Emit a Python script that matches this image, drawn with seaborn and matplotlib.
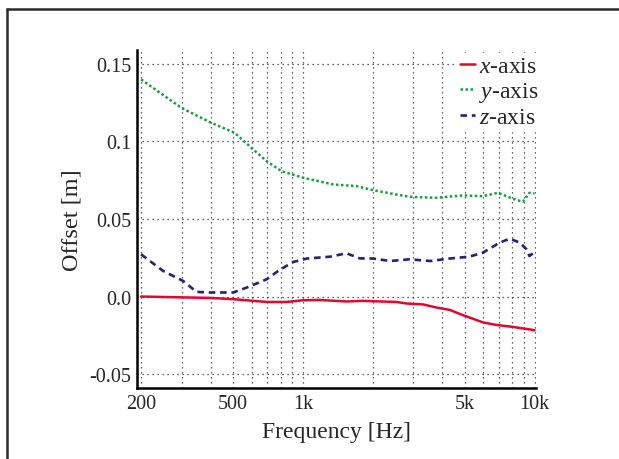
import numpy as np
import pandas as pd
import matplotlib
matplotlib.use("Agg")
import matplotlib.pyplot as plt
import seaborn as sns
from matplotlib.lines import Line2D
from matplotlib.ticker import FixedLocator, FixedFormatter, NullFormatter

# ---- data ----
freq_x = [200, 397, 500, 697, 850, 1000, 1180, 1540, 1800, 2530, 2800, 3300,
          3770, 4300, 4900, 5600, 5990, 6840, 8060, 10000]
off_x = [0.000, -0.0009, -0.0017, -0.0035, -0.0035, -0.0024, -0.0022, -0.0032,
         -0.0028, -0.0035, -0.0045, -0.0051, -0.0071, -0.0086, -0.0120, -0.0151,
         -0.0167, -0.0183, -0.0196, -0.0217]

freq_y = [200, 299, 397, 508, 610, 697, 809, 1002, 1350, 1703, 2010, 2534, 2893,
          3766, 4908, 5985, 6950, 8060, 8900, 9510, 10000]
off_y = [0.140, 0.1216, 0.1124, 0.1055, 0.0948, 0.0873, 0.0808, 0.0766, 0.0723,
         0.0712, 0.0686, 0.0658, 0.0643, 0.0637, 0.0652, 0.0647, 0.0669, 0.0631,
         0.0611, 0.0669, 0.0665]

freq_z = [200, 249, 304, 347, 397, 500, 572, 697, 792, 908, 1040, 1310, 1540,
          1760, 2010, 2380, 2890, 3550, 4300, 5230, 5990, 7060, 7820, 8650, 9240,
          9510, 10000]
off_z = [0.0272, 0.0165, 0.0100, 0.0030, 0.0026, 0.0026, 0.0058, 0.0111, 0.0171,
         0.0223, 0.0245, 0.0257, 0.0279, 0.0246, 0.0245, 0.0229, 0.0240, 0.0229,
         0.0245, 0.0257, 0.0283, 0.0347, 0.0373, 0.0347, 0.0304, 0.0261, 0.0287]

series_labels = [r"$x$-axis", r"$y$-axis", r"$z$-axis"]
xtick_vals = [200, 500, 1000, 5000, 10000]
xtick_labels = ["200", "500", "1k", "5k", "10k"]
ytick_vals = [-0.05, 0.0, 0.05, 0.1, 0.15]
ytick_labels = ["-0.05", "0.0", "0.05", "0.1", "0.15"]
x_label = "Frequency [Hz]"
y_label = "Offset [m]"

# ---- style ----
sns.set_style("white")
plt.rcParams["font.family"] = ["Liberation Serif", "DejaVu Serif"]
plt.rcParams["mathtext.fontset"] = "custom"
plt.rcParams["mathtext.rm"] = "Liberation Serif"
plt.rcParams["mathtext.it"] = "Liberation Serif:italic"

fig = plt.figure(figsize=(6.19, 4.60), dpi=100)
ax = fig.add_axes([137 / 619, 1 - 389 / 460, (536 - 137) / 619, (389 - 51) / 460])

sns.lineplot(x=freq_x, y=off_x, ax=ax, color="#e0082c", linewidth=1.8,
             label=series_labels[0])
sns.lineplot(x=freq_y, y=off_y, ax=ax, color="#14a040", linewidth=1.8,
             linestyle=(0, (1, 1)), label=series_labels[1])
sns.lineplot(x=freq_z, y=off_z, ax=ax, color="#26207a", linewidth=1.9,
             linestyle=(0, (2.5, 1.8)), label=series_labels[2])

ax.set_xscale("log")
ax.set_xlim(192, 10150)
ax.set_ylim(-0.059, 0.159)

minor = [m * 10 ** e for e in (2, 3) for m in range(2, 10)] + [10000]
ax.xaxis.set_major_locator(FixedLocator(xtick_vals))
ax.xaxis.set_major_formatter(FixedFormatter(xtick_labels))
ax.xaxis.set_minor_locator(FixedLocator(minor))
ax.xaxis.set_minor_formatter(NullFormatter())
ax.set_yticks(ytick_vals)
ax.set_yticklabels(ytick_labels)

ax.tick_params(axis="both", which="both", length=0, labelsize=14.5, pad=4)
ax.grid(True, which="both", axis="x", color="#333333", linestyle=(0, (1, 3)), linewidth=0.9)
ax.grid(True, which="major", axis="y", color="#333333", linestyle=(0, (1, 3)), linewidth=0.9)

for s in ("top", "right"):
    ax.spines[s].set_visible(False)
for s in ("left", "bottom"):
    ax.spines[s].set_color("black")
    ax.spines[s].set_linewidth(1.8)

ax.set_xlabel(x_label, fontsize=17, labelpad=6)
ax.set_ylabel(y_label, fontsize=17.5, labelpad=5)

leg = ax.legend(loc="upper right", bbox_to_anchor=(1.012, 0.99), frameon=True,
                fontsize=17, handlelength=0.64, handletextpad=0.17,
                labelspacing=0.12, borderpad=0.1, borderaxespad=0.0)
leg.get_frame().set_edgecolor("white")
leg.get_frame().set_facecolor("white")
leg.get_frame().set_alpha(1.0)

# outer figure border (top and left edges visible in the reference)
W, H = 619, 460
fig.add_artist(Line2D([7 / W, 1.0], [1 - 10 / H, 1 - 10 / H], transform=fig.transFigure,
                      color="#2a2a2a", linewidth=1.8))
fig.add_artist(Line2D([7 / W, 7 / W], [0.0, 1 - 10 / H], transform=fig.transFigure,
                      color="#2a2a2a", linewidth=1.8))

fig.savefig("out.png", dpi=100)
